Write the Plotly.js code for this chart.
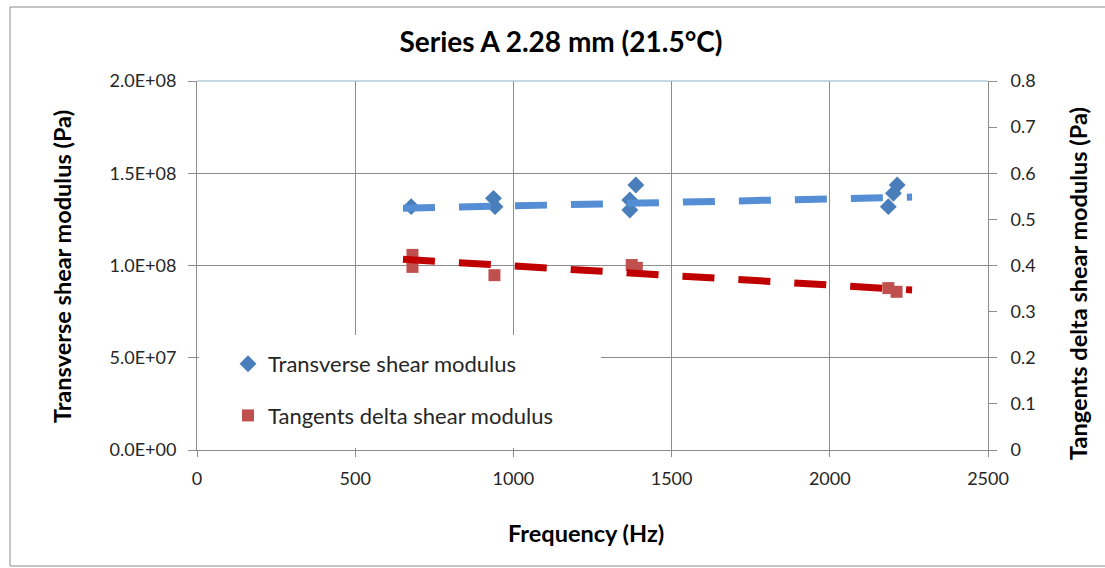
<!DOCTYPE html>
<html>
<head>
<meta charset="utf-8">
<script src="https://cdn.plot.ly/plotly-3.0.1.min.js"></script>
<style>html,body{margin:0;padding:0;background:#fff;}#chart{width:1105px;height:568px;}</style>
</head>
<body>
<div id="chart"></div>
<script>
// ---- data ----
const transverseFreq = [677, 937, 942, 1368, 1368, 1387, 2185, 2201, 2213];
const transverseModulus = [1.319e8, 1.364e8, 1.319e8, 1.355e8, 1.301e8, 1.436e8, 1.319e8, 1.391e8, 1.436e8];

const tanDeltaFreq = [681, 681, 940, 1374, 1390, 2185, 2211];
const tanDeltaModulus = [0.423, 0.397, 0.379, 0.401, 0.395, 0.351, 0.343];

const trendFreq = [651, 2260];
const transverseTrend = [1.310e8, 1.371e8];
const tanDeltaTrend = [0.4134, 0.3469];

const leftTickVals = [0, 0.5e8, 1.0e8, 1.5e8, 2.0e8];
const leftTickText = ["0.0E+00", "5.0E+07", "1.0E+08", "1.5E+08", "2.0E+08"];
const rightTickVals = [0, 0.1, 0.2, 0.3, 0.4, 0.5, 0.6, 0.7, 0.8];
const rightTickText = ["0", "0.1", "0.2", "0.3", "0.4", "0.5", "0.6", "0.7", "0.8"];
const xTickVals = [0, 500, 1000, 1500, 2000, 2500];

const seriesNames = ["Transverse shear modulus", "Tangents delta shear modulus"];
const chartTitle = "Series A 2.28 mm (21.5°C)";
const xTitle = "Frequency (Hz)";
const leftTitle = "Transverse shear modulus (Pa)";
const rightTitle = "Tangents delta shear modulus (Pa)";

// ---- layout helpers (pixel geometry of the plot area) ----
const W = 1105, H = 568;
const L = 197, R = 988, T = 81, B = 450;
const px = x => (x - L) / (R - L);
const py = y => (B - y) / (B - T);

const FONT = "Lato, 'Open Sans', sans-serif";
const TXT = "#262626";
const GRID = "#8c8c8c";
const TITLE_FONT = {family: FONT, size: 23.5, color: "#000"};

const traces = [
  {
    x: transverseFreq, y: transverseModulus, type: "scatter", mode: "markers",
    name: seriesNames[0], legendgroup: "a", yaxis: "y",
    marker: {symbol: "diamond", size: 13, color: "#4A7EBB"}
  },
  {
    x: tanDeltaFreq, y: tanDeltaModulus, type: "scatter", mode: "markers",
    name: seriesNames[1], legendgroup: "b", yaxis: "y2",
    marker: {symbol: "square", size: 12, color: "#C0504D"}
  },
  {
    x: trendFreq, y: transverseTrend, type: "scatter", mode: "lines",
    showlegend: false, yaxis: "y", hoverinfo: "skip",
    line: {color: "#558ED5", width: 7, dash: "32px,24px"}
  },
  {
    x: trendFreq, y: tanDeltaTrend, type: "scatter", mode: "lines",
    showlegend: false, yaxis: "y2", hoverinfo: "skip",
    line: {color: "#C00000", width: 7, dash: "32px,24px"}
  }
];

const layout = {
  width: W, height: H,
  margin: {l: L, r: W - R, t: T, b: H - B, pad: 0},
  paper_bgcolor: "#ffffff", plot_bgcolor: "#ffffff",
  font: {family: FONT, color: TXT, size: 18},
  showlegend: true,
  title: {
    text: "<b>" + chartTitle + "</b>",
    font: {family: FONT, size: 28, color: "#000"},
    x: px(561), xanchor: "center", xref: "paper",
    y: 1 - 42 / H, yanchor: "middle", yref: "container"
  },
  xaxis: {
    range: [0, 2500], tickvals: xTickVals, ticktext: xTickVals.map(String),
    showgrid: true, gridcolor: GRID, gridwidth: 1,
    showline: true, linecolor: GRID, linewidth: 1,
    ticks: "outside", ticklen: 6, tickcolor: GRID,
    zeroline: false, fixedrange: true,
    tickfont: {family: FONT, size: 18, color: TXT},
    ticklabelstandoff: 6
  },
  yaxis: {
    range: [0, 2e8], tickvals: leftTickVals, ticktext: leftTickText,
    showgrid: true, gridcolor: GRID, gridwidth: 1,
    showline: true, linecolor: GRID, linewidth: 1,
    ticks: "outside", ticklen: 8, tickcolor: GRID,
    zeroline: false, fixedrange: true,
    tickfont: {family: FONT, size: 18, color: TXT},
    ticklabelstandoff: 8
  },
  yaxis2: {
    range: [0, 0.8], tickvals: rightTickVals, ticktext: rightTickText,
    overlaying: "y", side: "right",
    showgrid: false,
    showline: true, linecolor: GRID, linewidth: 1,
    ticks: "outside", ticklen: 8, tickcolor: GRID,
    zeroline: false, fixedrange: true,
    tickfont: {family: FONT, size: 18, color: TXT},
    ticklabelstandoff: 10
  },
  legend: {
    x: px(228), xanchor: "left",
    y: py(343), yanchor: "top",
    bgcolor: "rgba(0,0,0,0)", borderwidth: 0,
    traceorder: "grouped", tracegroupgap: 20,
    font: {family: FONT, size: 22, color: TXT}
  },
  annotations: [
    {text: "<b>" + xTitle + "</b>", xref: "paper", yref: "paper",
     x: px(586), y: py(533), xanchor: "center", yanchor: "middle",
     showarrow: false, font: TITLE_FONT},
    {text: "<b>" + leftTitle + "</b>", xref: "paper", yref: "paper",
     x: px(62), y: py(267), xanchor: "center", yanchor: "middle", textangle: -90,
     showarrow: false, font: TITLE_FONT},
    {text: "<b>" + rightTitle + "</b>", xref: "paper", yref: "paper",
     x: px(1078), y: py(284), xanchor: "center", yanchor: "middle", textangle: -90,
     showarrow: false, font: TITLE_FONT}
  ],
  shapes: [
    {type: "rect", xref: "paper", yref: "paper", layer: "above",
     x0: px(199), x1: px(601), y0: py(448), y1: py(335),
     fillcolor: "#ffffff", line: {width: 0}},
    {type: "line", xref: "paper", yref: "paper", layer: "above",
     x0: 0, x1: 1, y0: 1, y1: 1, line: {color: "#8DB3C7", width: 1}},
    {type: "rect", xref: "paper", yref: "paper", layer: "below",
     x0: px(10), x1: px(1112), y0: py(566), y1: py(7),
     fillcolor: "rgba(0,0,0,0)", line: {color: "#8a8a8a", width: 1}}
  ]
};

Plotly.newPlot("chart", traces, layout, {staticPlot: true, displayModeBar: false});
</script>
</body>
</html>
